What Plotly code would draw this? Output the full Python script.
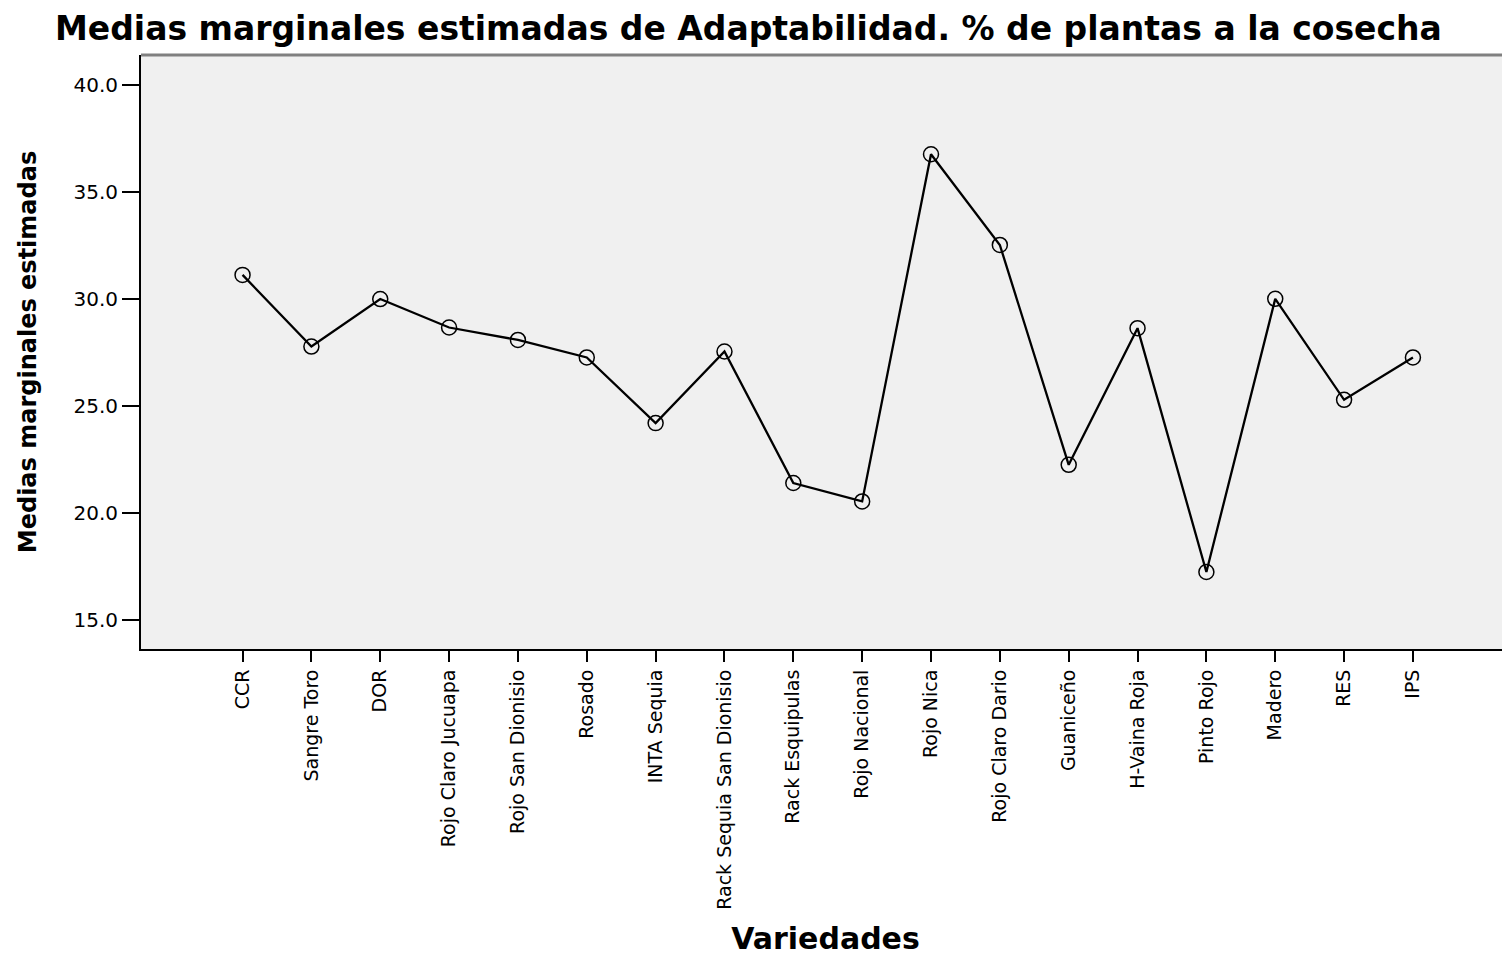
import plotly.graph_objects as go

variedades = ["CCR", "Sangre Toro", "DOR", "Rojo Claro Jucuapa", "Rojo San Dionisio",
              "Rosado", "INTA Sequia", "Rack Sequia San Dionisio", "Rack Esquipulas",
              "Rojo Nacional", "Rojo Nica", "Rojo Claro Dario", "Guaniceño", "H-Vaina Roja",
              "Pinto Rojo", "Madero", "RES", "IPS"]
medias = [31.12, 27.77, 29.99, 28.66, 28.08, 27.26, 24.19, 27.54, 21.39,
          20.53, 36.76, 32.52, 22.24, 28.63, 17.23, 30.0, 25.28, 27.26]
y_ticks = [15, 20, 25, 30, 35, 40]

fig = go.Figure()
fig.add_trace(go.Scatter(
    x=variedades, y=medias, mode="lines+markers",
    line=dict(color="black", width=2.3),
    marker=dict(symbol="circle-open", size=15, color="black", line=dict(width=1.5)),
    showlegend=False,
))

font_family = "DejaVu Sans, Verdana, sans-serif"
fig.update_layout(
    width=1502, height=948,
    margin=dict(l=133, r=0, t=47, b=307),
    paper_bgcolor="white",
    plot_bgcolor="#F0F0F0",
    title=dict(text="<b>Medias marginales estimadas de Adaptabilidad. % de plantas a la cosecha</b>",
               x=0.0313, xanchor="left", y=0.978, yanchor="middle",
               font=dict(family=font_family, size=33, color="black")),
    font=dict(family=font_family, color="black"),
)
fig.update_xaxes(
    type="category", range=[-1.475, 18.41],
    showline=True, linecolor="black", linewidth=2,
    ticks="outside", ticklen=11, tickwidth=2, tickcolor="black",
    tickangle=-90, tickfont=dict(size=19, color="black"),
    showgrid=False, zeroline=False,
    title=dict(text="<b>Variedades</b>", font=dict(size=30, color="black"), standoff=22),
)
fig.update_yaxes(
    range=[13.63, 41.40], tickvals=y_ticks, tickformat=".1f",
    showline=True, linecolor="black", linewidth=2,
    ticks="outside", ticklen=17, tickwidth=2, tickcolor="black",
    tickfont=dict(size=20, color="black"),
    showgrid=False, zeroline=False,
    title=dict(text="<b>Medias marginales estimadas</b>", font=dict(size=24, color="black"), standoff=30),
)
fig.add_shape(type="line", xref="paper", yref="paper", x0=0, x1=1, y0=1, y1=1,
              line=dict(color="#808080", width=3))
fig.write_html("out.html")
